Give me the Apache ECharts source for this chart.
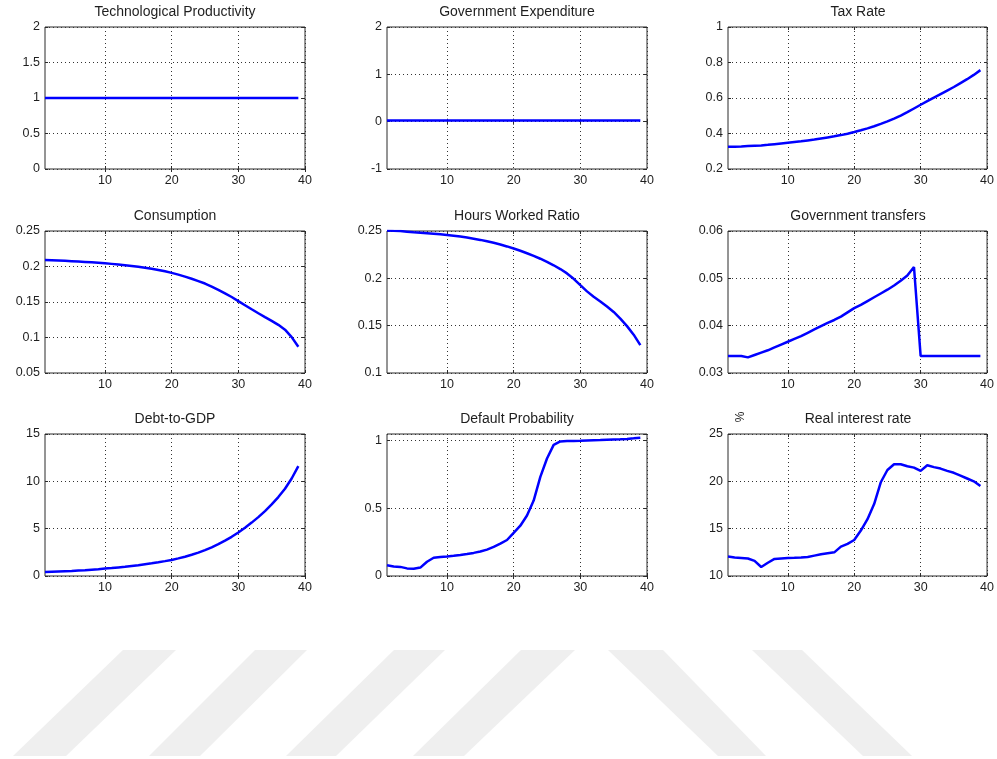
<!DOCTYPE html>
<html>
<head>
<meta charset="utf-8">
<title>Simulation paths</title>
<script src="https://cdn.jsdelivr.net/npm/echarts@6/dist/echarts.min.js"></script>
<style>
    html, body { margin: 0; padding: 0; background: #fff; }
    #main { width: 997px; height: 759px; }
</style>
</head>
<body>
<div id="main"></div>
<script>
// periods on the x axis
var periods = [1,2,3,4,5,6,7,8,9,10,11,12,13,14,15,16,17,18,19,20,21,22,23,24,25,26,27,28,29,30,31,32,33,34,35,36,37,38,39];
var xTicks = [10, 20, 30, 40];

var techProductivity = [1,1,1,1,1,1,1,1,1,1,1,1,1,1,1,1,1,1,1,1,1,1,1,1,1,1,1,1,1,1,1,1,1,1,1,1,1,1,1];
var govExpenditure = [0.025,0.025,0.025,0.025,0.025,0.025,0.025,0.025,0.025,0.025,0.025,0.025,0.025,0.025,0.025,0.025,0.025,0.025,0.025,0.025,
    0.025,0.025,0.025,0.025,0.025,0.025,0.025,0.025,0.025,0.025,0.025,0.025,0.025,0.025,0.025,0.025,0.025,0.025,0.025];
var taxRate = [0.325,0.326,0.327,0.329,0.331,0.333,0.336,0.34,0.344,0.348,0.352,0.356,0.361,0.366,0.372,0.378,0.384,0.391,0.399,0.408,
    0.418,0.429,0.441,0.454,0.468,0.484,0.501,0.52,0.541,0.562,0.582,0.602,0.622,0.642,0.662,0.684,0.706,0.73,0.757];
var consumption = [0.209,0.2088,0.2085,0.208,0.2075,0.207,0.2065,0.206,0.2053,0.2046,0.2037,0.2028,0.2018,0.2007,0.1995,0.1982,0.1968,0.1952,0.1932,0.191,
    0.1885,0.1858,0.1828,0.1795,0.176,0.1718,0.1672,0.1622,0.157,0.1512,0.1455,0.1398,0.1342,0.1288,0.1235,0.1178,0.111,0.1005,0.087];
var hoursWorked = [0.2506,0.2502,0.2499,0.2493,0.2487,0.2482,0.2477,0.2471,0.2465,0.2458,0.245,0.2441,0.2431,0.2419,0.2406,0.2391,0.2375,0.2357,0.2337,0.2315,
    0.2291,0.2265,0.2237,0.2207,0.2174,0.2138,0.2098,0.2052,0.1995,0.1928,0.1862,0.1805,0.1755,0.1702,0.1645,0.1575,0.1495,0.1405,0.1295];
var govTransfers = [0.0336,0.0336,0.0336,0.0333,0.0338,0.0343,0.0348,0.0354,0.036,0.0366,0.0372,0.0378,0.0385,0.0392,0.0399,0.0406,0.0412,0.0419,0.0428,0.0437,
    0.0444,0.0452,0.046,0.0468,0.0476,0.0485,0.0495,0.0506,0.0524,0.0336,0.0336,0.0336,0.0336,0.0336,0.0336,0.0336,0.0336,0.0336,0.0336];
var debtToGdp = [0.42,0.45,0.48,0.51,0.54,0.58,0.62,0.67,0.72,0.78,0.84,0.91,0.98,1.06,1.14,1.24,1.34,1.45,1.57,1.7,
    1.86,2.04,2.24,2.47,2.74,3.03,3.36,3.73,4.14,4.6,5.1,5.64,6.22,6.86,7.56,8.34,9.22,10.3,11.6];
var defaultProb = [0.079,0.07,0.067,0.056,0.053,0.062,0.105,0.134,0.14,0.144,0.149,0.155,0.162,0.17,0.18,0.194,0.214,0.238,0.265,0.318,
    0.37,0.445,0.555,0.73,0.865,0.965,0.99,0.993,0.994,0.995,0.997,0.999,1.0,1.002,1.004,1.006,1.009,1.013,1.018];
var realInterest = [12.05,11.95,11.9,11.85,11.6,10.95,11.4,11.8,11.85,11.9,11.92,11.95,12.0,12.15,12.3,12.4,12.5,13.1,13.4,13.8,
    14.8,16.0,17.6,19.9,21.2,21.8,21.8,21.6,21.45,21.1,21.7,21.5,21.35,21.1,20.9,20.6,20.3,20.0,19.5];

var panels = [
    {title: 'Technological Productivity', data: techProductivity, min: 0, max: 2, interval: 0.5},
    {title: 'Government Expenditure', data: govExpenditure, min: -1, max: 2, interval: 1},
    {title: 'Tax Rate', data: taxRate, min: 0.2, max: 1, interval: 0.2},
    {title: 'Consumption', data: consumption, min: 0.05, max: 0.25, interval: 0.05},
    {title: 'Hours Worked Ratio', data: hoursWorked, min: 0.1, max: 0.25, interval: 0.05},
    {title: 'Government transfers', data: govTransfers, min: 0.03, max: 0.06, interval: 0.01},
    {title: 'Debt-to-GDP', data: debtToGdp, min: 0, max: 15, interval: 5},
    {title: 'Default Probability', data: defaultProb, min: 0, max: 1.045, interval: 0.5, hideMax: true},
    {title: 'Real interest rate', data: realInterest, min: 10, max: 25, interval: 5}
];

// subplot layout (pixels)
var colLeft = [45, 387, 728];
var rowTop = [27, 231, 434];
var plotW = 260, plotH = 142;
var fontName = 'Liberation Sans, Arial, Helvetica, sans-serif';
var inkColor = '#1e1e1e';

function buildOption() {
    var grids = [], xAxes = [], yAxes = [], seriesList = [], graphics = [];

    // 背景水印条纹
    var stripes = [
        [[123,650],[176,650],[66,756],[13,756]],
        [[255,650],[307,650],[200,756],[149,756]],
        [[394,650],[445,650],[336,756],[286,756]],
        [[521,650],[575,650],[464,756],[413,756]],
        [[608,650],[663,650],[766,756],[718,756]],
        [[752,650],[802,650],[912,756],[863,756]]
    ];
    stripes.forEach(function (pts) {
        graphics.push({type: 'polygon', shape: {points: pts}, style: {fill: '#efefef'}, z: -10, silent: true});
    });

    panels.forEach(function (p, i) {
        var gx = colLeft[i % 3], gy = rowTop[Math.floor(i / 3)];

        grids.push({
            left: gx, top: gy, width: plotW, height: plotH,
            show: true, borderColor: '#2a2a2a', borderWidth: 1, backgroundColor: '#fff'
        });

        // bottom x axis with labels, top one only for the inner ticks
        xAxes.push({
            type: 'value', gridIndex: i, min: 1, max: 40, position: 'bottom',
            axisLine: {show: false},
            axisTick: {show: true, inside: true, length: 3, customValues: xTicks, lineStyle: {color: '#2a2a2a'}},
            axisLabel: {customValues: xTicks, color: inkColor, fontSize: 12.5, fontFamily: fontName, margin: 5},
            splitLine: {show: true, lineStyle: {color: '#333', type: [1, 3], width: 1}}
        });
        xAxes.push({
            type: 'value', gridIndex: i, min: 1, max: 40, position: 'top',
            axisLine: {show: false},
            axisTick: {show: true, inside: true, length: 3, customValues: xTicks, lineStyle: {color: '#2a2a2a'}},
            axisLabel: {show: false, customValues: xTicks},
            splitLine: {show: false}
        });

        yAxes.push({
            type: 'value', gridIndex: i, min: p.min, max: p.max, interval: p.interval, position: 'left',
            axisLine: {show: false},
            axisTick: {show: true, inside: true, length: 3, lineStyle: {color: '#2a2a2a'}},
            axisLabel: {color: inkColor, fontSize: 12.5, fontFamily: fontName, margin: 5, showMaxLabel: !p.hideMax},
            splitLine: {show: true, lineStyle: {color: '#333', type: [1, 3], width: 1}}
        });
        yAxes.push({
            type: 'value', gridIndex: i, min: p.min, max: p.max, interval: p.interval, position: 'right',
            axisLine: {show: false},
            axisTick: {show: true, inside: true, length: 3, lineStyle: {color: '#2a2a2a'}},
            axisLabel: {show: false},
            splitLine: {show: false}
        });

        seriesList.push({
            name: p.title,
            type: 'line',
            xAxisIndex: i * 2,
            yAxisIndex: i * 2,
            data: periods.map(function (x, k) { return [x, p.data[k]]; }),
            showSymbol: false,
            symbol: 'none',
            clip: true,
            lineStyle: {color: '#0000ff', width: 2.5},
            z: 5
        });

        graphics.push({
            type: 'text', x: gx + plotW / 2, y: gy - 15,
            style: {text: p.title, fill: inkColor, font: '14px ' + fontName, textAlign: 'center', textVerticalAlign: 'middle'}
        });
    });

    // y label of the interest rate panel
    graphics.push({
        type: 'text', x: 741, y: 417, rotation: Math.PI / 2,
        style: {text: '%', fill: inkColor, font: '12px ' + fontName, textAlign: 'center', textVerticalAlign: 'middle'}
    });

    return {
        animation: false,
        backgroundColor: '#fff',
        grid: grids,
        xAxis: xAxes,
        yAxis: yAxes,
        series: seriesList,
        graphic: graphics
    };
}

var myChart = echarts.init(document.getElementById('main'), null, {renderer: 'canvas'});
myChart.setOption(buildOption());
</script>
</body>
</html>
